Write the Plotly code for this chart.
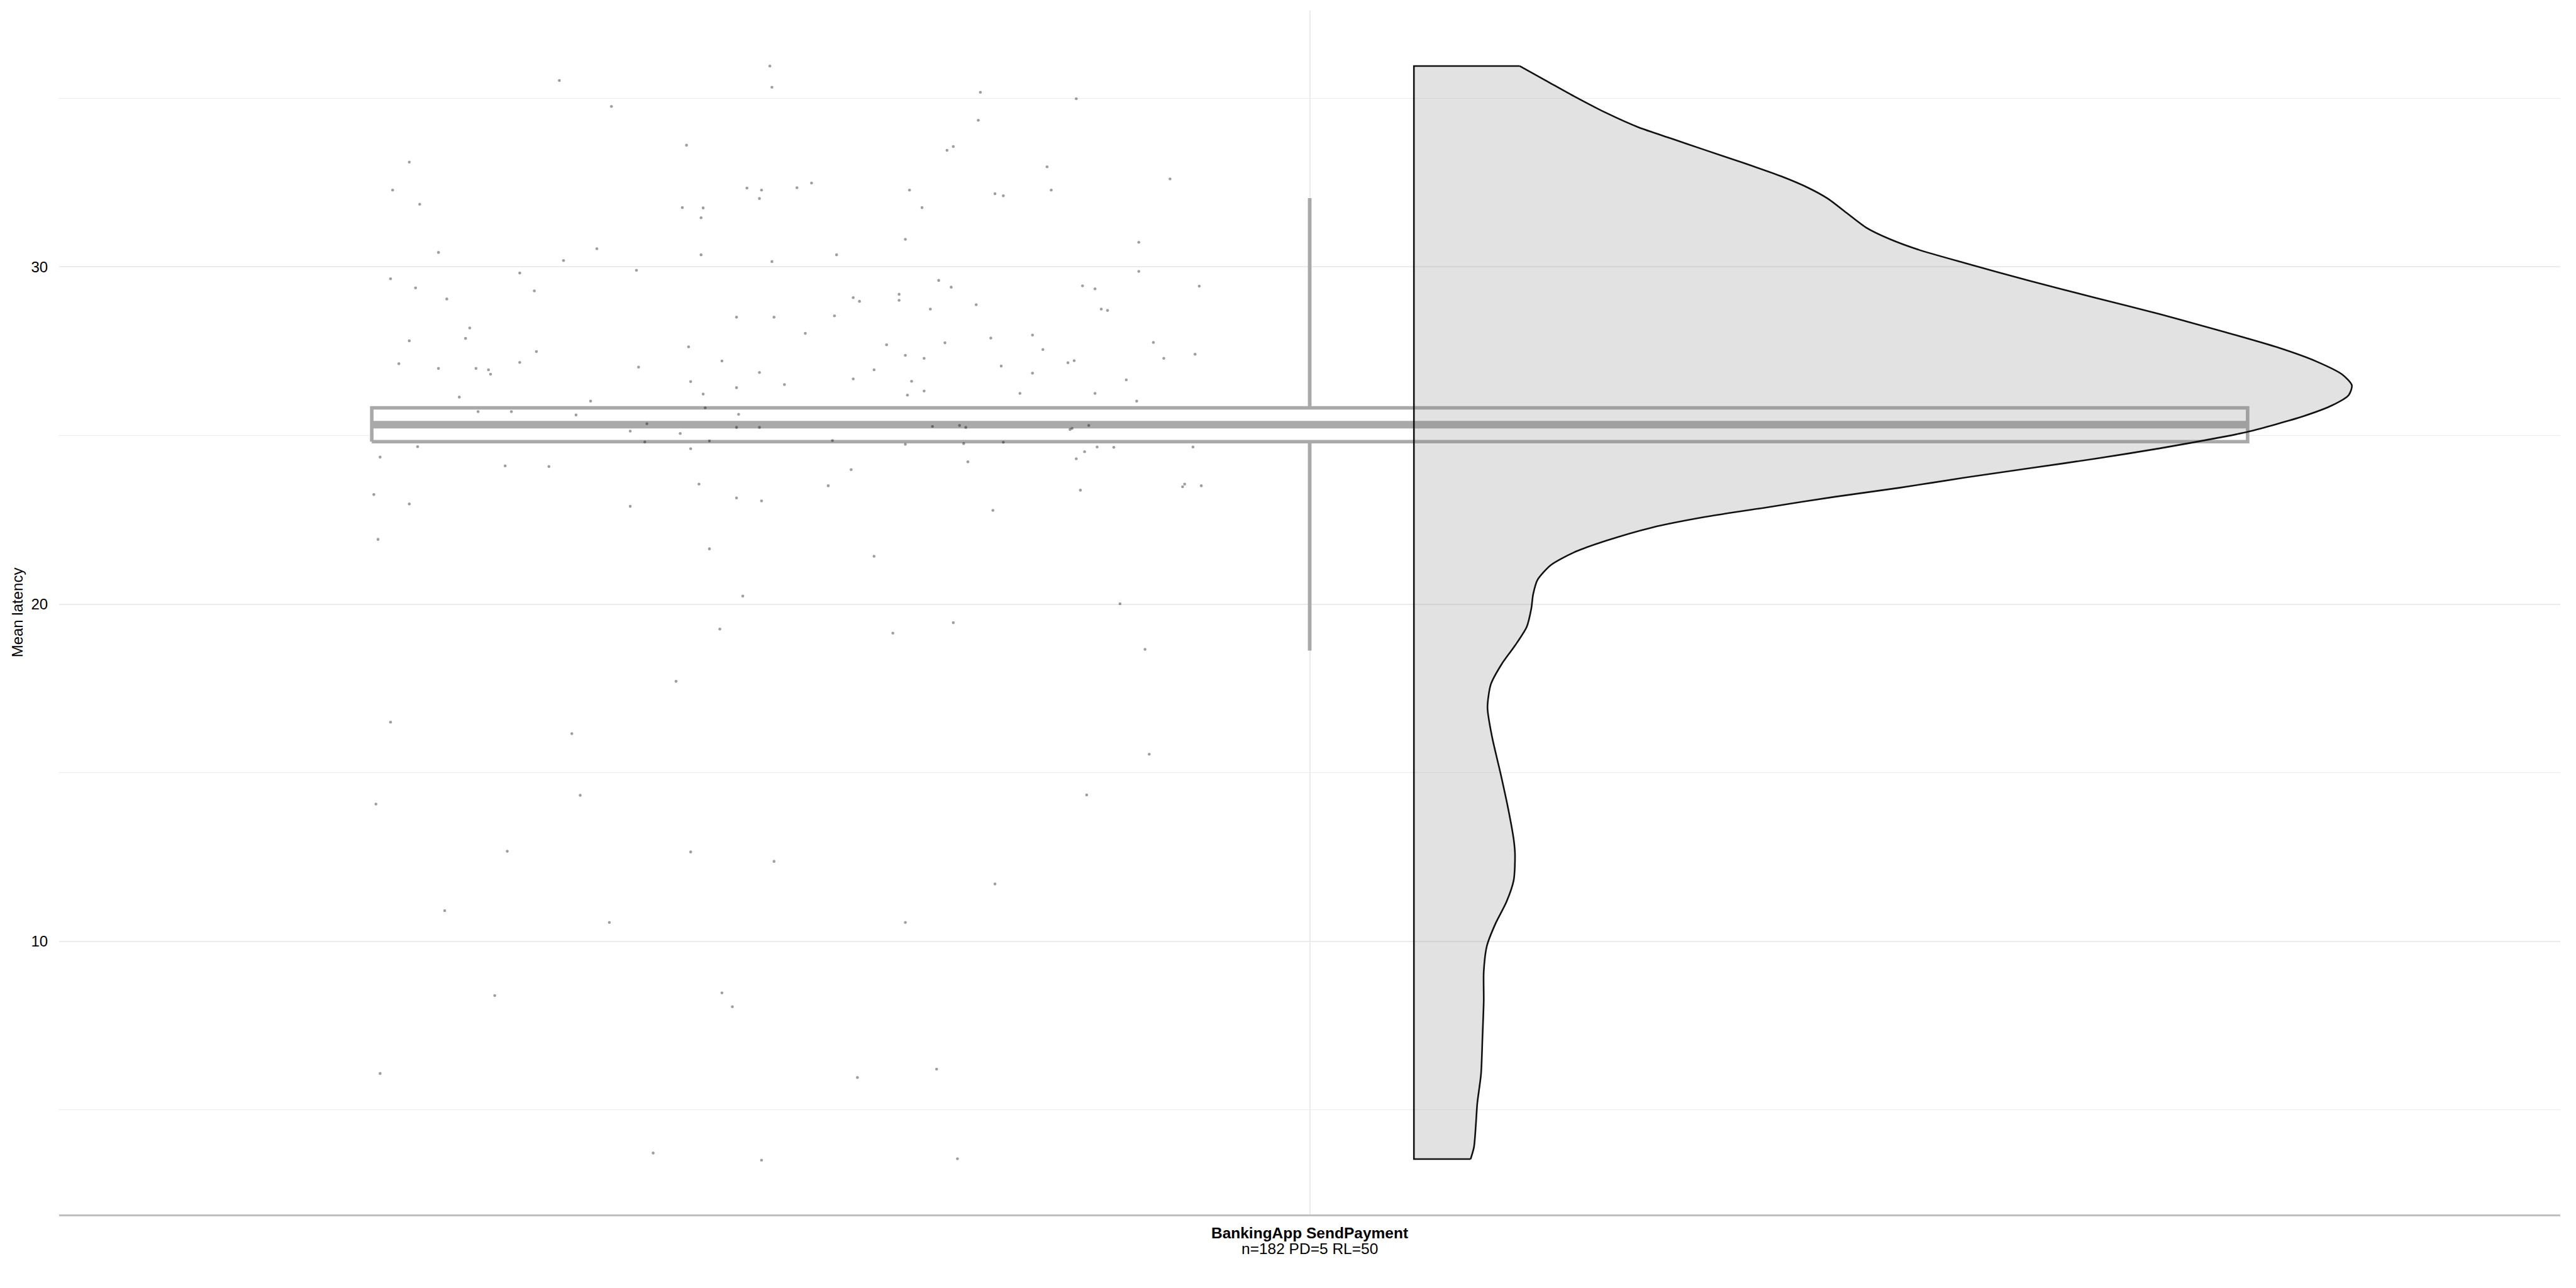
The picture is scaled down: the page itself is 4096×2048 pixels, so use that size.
import plotly.graph_objects as go

# ---------------- data ----------------
category = "BankingApp SendPayment"
category_note = "n=182 PD=5 RL=50"
y_title = "Mean latency"
y_major_ticks = [10, 20, 30]
y_minor_ticks = [5, 15, 25, 35]

# jittered raw observations (x = jittered category position, y = latency)
jitter_x = [
    0.640, 0.741, 0.742, 0.665, 0.701, 0.568, 0.560, 0.573, 0.730, 0.737,
    0.736, 0.699, 0.709, 0.708, 0.582, 0.658, 0.642, 0.708, 0.742, 0.559,
    0.621, 0.677, 0.571, 0.628, 0.586, 0.725, 0.743, 0.597, 0.595, 0.568,
    0.702, 0.629, 0.718, 0.563, 0.621, 0.582, 0.600, 0.606, 0.607, 0.678,
    0.736, 0.703, 0.748, 0.725, 0.709, 0.592, 0.655, 0.710, 0.601, 0.617,
    0.648, 0.726, 0.682, 0.725, 0.736, 0.674, 0.698, 0.681, 0.712, 0.572,
    0.703, 0.554, 0.614, 0.635, 0.707, 0.551, 0.568, 0.725, 0.737, 0.674,
    0.553, 0.712, 0.728,
    0.842, 0.888, 0.841, 0.826, 0.829, 0.874, 0.754, 0.761, 0.808, 0.849,
    0.853, 0.876, 0.933, 0.814, 0.806, 0.773, 0.918, 0.918, 0.822, 0.828,
    0.781, 0.784, 0.803, 0.803, 0.891, 0.897, 0.947, 0.772, 0.818, 0.840,
    0.900, 0.903, 0.758, 0.797, 0.825, 0.847, 0.867, 0.872, 0.925, 0.806,
    0.815, 0.884, 0.887, 0.930, 0.945, 0.852, 0.867, 0.791, 0.781, 0.809,
    0.912, 0.807, 0.815, 0.861, 0.897, 0.917, 0.819, 0.832, 0.835, 0.885,
    0.886, 0.894, 0.771, 0.806, 0.834, 0.853, 0.892, 0.898, 0.906, 0.944,
    0.888, 0.836, 0.780, 0.769, 0.939, 0.940, 0.948, 0.890, 0.848, 0.791,
    0.717, 0.696, 0.559, 0.646, 0.552, 0.650, 0.615, 0.703, 0.743, 0.585,
    0.664, 0.609, 0.718, 0.723, 0.554, 0.685, 0.737,
    0.909, 0.829, 0.800, 0.921, 0.923, 0.893, 0.849, 0.806, 0.821, 0.783,
    0.831,
]
latency = [
    35.53, 35.96, 35.33, 34.76, 33.61, 33.11, 32.28, 31.86, 32.34, 32.28,
    32.03, 31.76, 31.75, 31.46, 30.43, 30.54, 30.19, 30.36, 30.16, 29.65,
    29.82, 29.90, 29.38, 29.29, 29.05, 28.51, 28.51, 28.19, 27.88, 27.81,
    27.63, 27.49, 27.21, 27.13, 27.17, 26.99, 26.99, 26.95, 26.82, 27.03,
    26.87, 26.60, 26.51, 26.42, 26.23, 26.14, 26.02, 25.82, 25.71, 25.71,
    25.61, 25.63, 25.35, 25.24, 25.24, 25.13, 25.06, 24.81, 24.84, 24.67,
    24.61, 24.36, 24.10, 24.08, 23.56, 23.25, 22.97, 23.15, 23.06, 22.90,
    21.92, 21.64, 20.24,
    35.18, 34.99, 34.35, 33.46, 33.57, 32.97, 32.35, 32.49, 32.28, 32.17,
    32.11, 32.28, 32.61, 31.76, 30.82, 30.36, 30.73, 29.87, 29.60, 29.40,
    29.09, 28.98, 29.19, 29.01, 29.44, 29.35, 29.43, 28.55, 28.75, 28.88,
    28.75, 28.71, 28.03, 27.69, 27.75, 27.89, 27.98, 27.55, 27.76, 27.38,
    27.29, 27.16, 27.22, 27.29, 27.41, 27.06, 26.85, 26.95, 26.68, 26.61,
    26.65, 26.20, 26.32, 26.25, 26.25, 26.02, 25.27, 25.30, 25.24, 25.18,
    25.21, 25.30, 24.85, 24.74, 24.76, 24.80, 24.52, 24.66, 24.65, 24.66,
    24.31, 24.22, 23.99, 23.51, 23.48, 23.56, 23.51, 23.38, 22.78, 21.42,
    19.26, 17.71, 16.50, 16.16, 14.07, 14.33, 12.67, 12.65, 12.37, 10.91,
    10.56, 8.39, 8.47, 8.06, 6.08, 3.72, 3.51,
    20.01, 19.45, 19.14, 18.66, 15.55, 14.34, 11.70, 10.56, 6.21, 5.96,
    3.55,
]

# box summary
box_q1 = 24.82
box_median = 25.32
box_q3 = 25.82
whisker_low = 18.62
whisker_high = 32.04

# half-violin density outline (top -> bottom): latency value and half width
violin_y = [
    35.96, 35.50, 35.07, 34.57, 34.14, 33.81, 33.48, 33.09, 32.68, 32.35,
    32.03, 31.59, 31.16, 30.83, 30.51, 30.12, 29.59, 29.09, 28.60, 28.07,
    27.62, 27.20, 26.81, 26.49, 26.20, 25.90, 25.57, 25.12, 24.97, 24.62,
    24.31, 24.03, 23.75, 23.45, 23.18, 22.88, 22.58, 22.27, 21.88, 21.53,
    21.16, 20.73, 20.29, 19.86, 19.32, 18.77, 18.23, 17.62, 16.93, 16.06,
    14.97, 13.88, 13.01, 12.58, 11.82, 11.17, 10.52, 9.86, 9.10, 8.23,
    7.15, 6.06, 5.19, 4.54, 3.89, 3.54,
]
violin_w = [
    0.0507, 0.0641, 0.0766, 0.0922, 0.1078, 0.1235, 0.1391, 0.1579, 0.1766, 0.1891,
    0.1985, 0.2079, 0.2172, 0.2282, 0.2422, 0.2641, 0.2954, 0.3266, 0.3579, 0.3891,
    0.4141, 0.4329, 0.4454, 0.4500, 0.4485, 0.4407, 0.4266, 0.4007, 0.3891, 0.3579,
    0.3266, 0.2954, 0.2641, 0.2329, 0.2016, 0.1704, 0.1391, 0.1141, 0.0922, 0.0766,
    0.0657, 0.0594, 0.0572, 0.0563, 0.0541, 0.0485, 0.0422, 0.0369, 0.0353, 0.0375,
    0.0416, 0.0454, 0.0479, 0.0485, 0.0479, 0.0444, 0.0391, 0.0350, 0.0335, 0.0335,
    0.0329, 0.0322, 0.0304, 0.0297, 0.0288, 0.0272,
]

# ---------------- layout constants ----------------
CAT_POS = 1.0
BOX_HALF = 0.45
VIOLIN_OFFSET = 0.05
X_RANGE = [0.4, 1.6]
Y_RANGE = [1.90, 37.60]
FONT = "Liberation Sans, Arial, sans-serif"
BOX_COLOR = "#A9A9A9"
VIOLIN_LINE = dict(color="#111111", width=2.6)

fig = go.Figure()

# box (white fill, grey outline)
bx0, bx1 = CAT_POS - BOX_HALF, CAT_POS + BOX_HALF
fig.add_trace(go.Scatter(
    x=[bx0, bx1, bx1, bx0, bx0], y=[box_q1, box_q1, box_q3, box_q3, box_q1],
    mode="lines", fill="toself", fillcolor="white",
    line=dict(color=BOX_COLOR, width=5.6), hoverinfo="skip", showlegend=False))
# whiskers
fig.add_trace(go.Scatter(
    x=[CAT_POS, CAT_POS, None, CAT_POS, CAT_POS],
    y=[box_q3, whisker_high, None, box_q1, whisker_low],
    mode="lines", line=dict(color=BOX_COLOR, width=5.8),
    hoverinfo="skip", showlegend=False))
# median
fig.add_trace(go.Scatter(
    x=[bx0, bx1], y=[box_median, box_median], mode="lines",
    line=dict(color=BOX_COLOR, width=12), hoverinfo="skip", showlegend=False))

# jittered points
fig.add_trace(go.Scatter(
    x=jitter_x, y=latency, mode="markers",
    marker=dict(size=4.6, color="rgba(0,0,0,0.38)", line=dict(width=0)),
    showlegend=False))

# half violin: fill, straight edges, smooth density edge
base = CAT_POS + VIOLIN_OFFSET
curve_x = [base + w for w in violin_w]
vx = [base, base] + curve_x + [base]
vy = [violin_y[-1], violin_y[0]] + list(violin_y) + [violin_y[-1]]
fig.add_trace(go.Scatter(
    x=vx, y=vy, mode="lines", fill="toself",
    fillcolor="rgba(134,134,134,0.24)", line=dict(width=0),
    hoverinfo="skip", showlegend=False))
fig.add_trace(go.Scatter(
    x=[curve_x[-1], base, base, curve_x[0]],
    y=[violin_y[-1], violin_y[-1], violin_y[0], violin_y[0]],
    mode="lines", line=VIOLIN_LINE, hoverinfo="skip", showlegend=False))
fig.add_trace(go.Scatter(
    x=curve_x, y=violin_y, mode="lines",
    line=dict(VIOLIN_LINE, shape="spline", smoothing=0.7),
    hoverinfo="skip", showlegend=False))

fig.update_layout(
    width=4096, height=2048,
    margin=dict(l=94, r=25, t=17, b=117, autoexpand=False),
    paper_bgcolor="white", plot_bgcolor="white",
    font=dict(family=FONT, color="black", size=24),
    showlegend=False,
    annotations=[dict(
        x=CAT_POS, xref="x", y=0, yref="paper", yanchor="top", xanchor="center",
        yshift=-39, text=category_note, showarrow=False,
        font=dict(family=FONT, size=24.5, color="black"))],
)
fig.update_xaxes(
    range=X_RANGE, tickmode="array", tickvals=[CAT_POS],
    ticktext=[f"<b>{category}</b>"],
    tickfont=dict(family=FONT, size=24.5, color="black"),
    ticks="outside", ticklen=6, tickcolor="rgba(0,0,0,0)",
    showgrid=True, gridcolor="#EBEBEB", gridwidth=2.4,
    showline=True, linecolor="#BFBFBF", linewidth=2.7,
    zeroline=False, automargin=False,
)
fig.update_yaxes(
    range=Y_RANGE, tickmode="array", tickvals=y_major_ticks,
    ticktext=[str(t) for t in y_major_ticks],
    tickfont=dict(family=FONT, size=24, color="black"),
    ticks="outside", ticklen=12, tickcolor="rgba(0,0,0,0)",
    showgrid=True, gridcolor="#EBEBEB", gridwidth=2.4,
    minor=dict(tickmode="array", tickvals=y_minor_ticks, showgrid=True,
               gridcolor="#EBEBEB", gridwidth=1.3, ticks=""),
    showline=False, zeroline=False, automargin=False,
    title=dict(text=y_title, font=dict(family=FONT, size=24, color="black"),
               standoff=6),
)

fig.write_html("out.html")
